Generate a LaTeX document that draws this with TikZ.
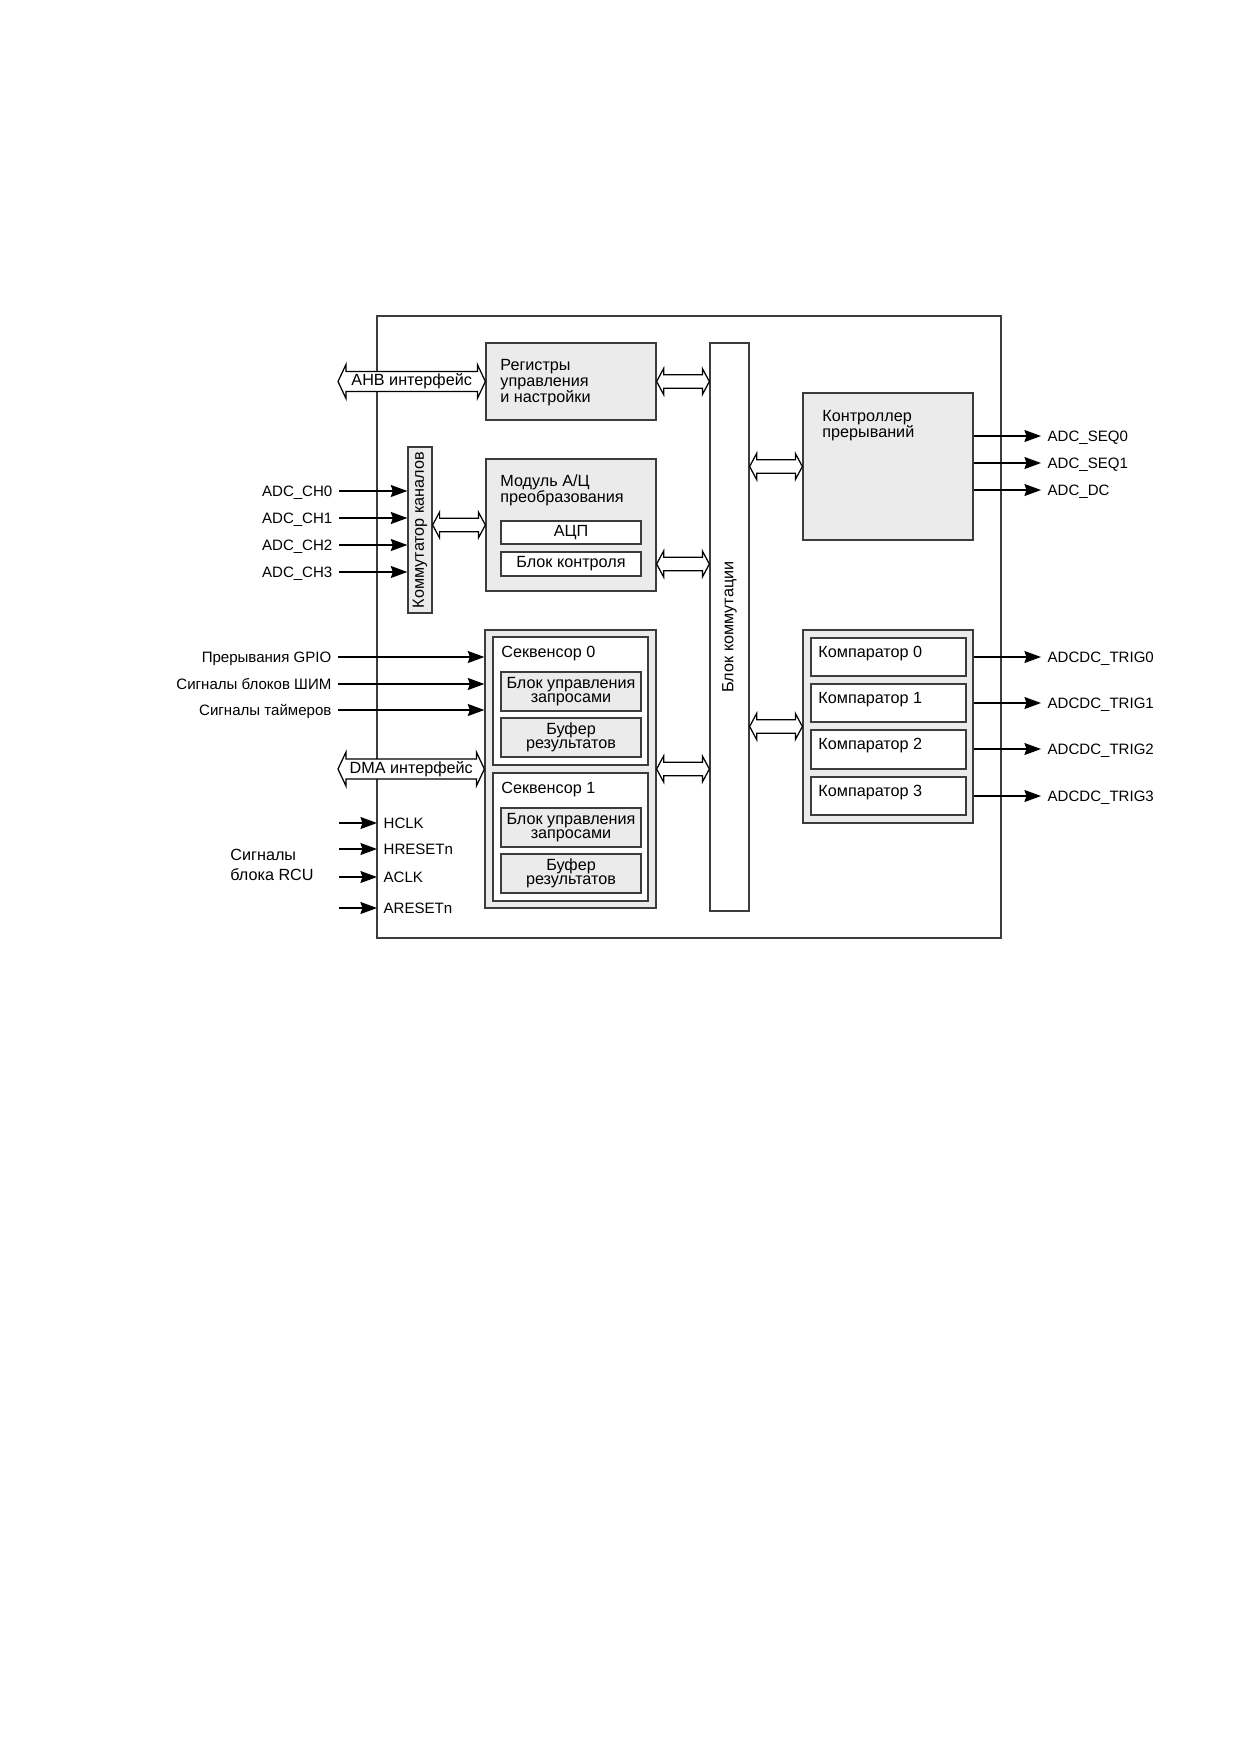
\documentclass[tikz,border=0pt]{standalone}
\usepackage{fontspec}
\setmainfont{Liberation Sans}
\usetikzlibrary{arrows.meta, calc, fit}

\definecolor{boxgray}{RGB}{235,235,235}
\definecolor{linegray}{RGB}{60,60,60}
\setlength{\lineskiplimit}{-10pt}

\tikzset{
  every node/.style={font=\fontsize{7.8}{7.6}\selectfont},
  blk/.style={draw=linegray, line width=0.6pt, inner sep=0pt},
  greyblk/.style={blk, fill=boxgray},
  whiteblk/.style={blk, fill=white},
  txt/.style={inner sep=0pt, align=left},
  innertxt/.style={inner sep=0pt, align=center, font=\fontsize{7.8}{6.6}\selectfont},
  sig/.style={inner xsep=3pt, inner ysep=0pt, text height=5.2pt, text depth=0pt, font=\fontsize{7.25}{8}\selectfont},
  sigarrow/.style={line width=0.6pt, -{Stealth[length=8pt, width=5.8pt, inset=1pt]}},
  busline/.style={draw=black, line width=0.6pt, fill=white, line join=miter},
}

% hollow two-way bus arrow: head length, half shaft, half head, from, to
\newcommand{\busarrow}[5]{%
  \draw[busline] (#4) -- ($(#4)+(#1,#3)$) -- ($(#4)+(#1,#2)$) -- ($(#5)+(-#1,#2)$)
    -- ($(#5)+(-#1,#3)$) -- (#5) -- ($(#5)+(-#1,-#3)$) -- ($(#5)+(-#1,-#2)$)
    -- ($(#4)+(#1,-#2)$) -- ($(#4)+(#1,-#3)$) -- cycle;}
\newcommand{\bigbus}[2]{\busarrow{8}{10}{17}{#1}{#2}}
\newcommand{\smallbus}[2]{\busarrow{7}{6.8}{13}{#1}{#2}}

\begin{document}
\begin{tikzpicture}[x=0.16933mm, y=-0.16933mm]
\useasboundingbox (0,0) rectangle (1240,1754);

% ADC frame
\node[whiteblk, fit={(377,316) (1001,938)}] (adc) {};

% Control registers
\node[greyblk, fit={(486,343) (656,420)}] (regs) {};
\node[txt, anchor=base west] (regstxt) at (500,402.5) {Регистры\\управления\\и настройки};

% Channel switch
\node[greyblk, fit={(408,447) (432,613)}] (mux) {};
\node[rotate=90, inner sep=0pt] (muxtxt) at (mux.center) {Коммутатор каналов};

% A/D conversion module
\node[greyblk, fit={(486,459) (656,591)}] (conv) {};
\node[txt, anchor=base west] (convtxt) at (500,502.5) {Модуль А/Ц\\преобразования};
\node[whiteblk, fit={(501,521) (641,544)}] (core) {};
\node (coretxt) at (core.center) {АЦП};
\node[whiteblk, fit={(501,552) (641,576)}] (check) {};
\node (checktxt) at (check.center) {Блок контроля};

% Switch block
\node[whiteblk, fit={(710,343) (749,911)}] (xbar) {};
\node[rotate=90, inner sep=0pt] (xbartxt) at (xbar.center) {Блок коммутации};

% Interrupt controller
\node[greyblk, fit={(803,393) (973,540)}] (irq) {};
\node[txt, anchor=base west] (irqtxt) at (822,437) {Контроллер\\прерываний};

% Sequencers
\node[greyblk, fit={(485,630) (656,908)}] (seqs) {};
\node[whiteblk, fit={(493,637) (648,765)}] (seq0) {};
\node[txt, anchor=base west] (seq0txt) at (501,657) {Секвенсор 0};
\node[greyblk, fit={(501,672) (641,711)}] (req0) {};
\node[innertxt] (req0txt) at (req0.center) {Блок управления\\запросами};
\node[greyblk, fit={(501,718) (641,757)}] (buf0) {};
\node[innertxt] (buf0txt) at (buf0.center) {Буфер\\результатов};
\node[whiteblk, fit={(493,773) (648,901)}] (seq1) {};
\node[txt, anchor=base west] (seq1txt) at (501,793) {Секвенсор 1};
\node[greyblk, fit={(501,808) (641,847)}] (req1) {};
\node[innertxt] (req1txt) at (req1.center) {Блок управления\\запросами};
\node[greyblk, fit={(501,854) (641,893)}] (buf1) {};
\node[innertxt] (buf1txt) at (buf1.center) {Буфер\\результатов};

% Comparators
\node[greyblk, fit={(803,630) (973,823)}] (cmps) {};
\node[whiteblk, fit={(811,638) (966,676)}] (cmp0) {};
\node[txt, anchor=base west] (cmp0txt) at (818,657) {Компаратор 0};
\node[whiteblk, fit={(811,684) (966,722)}] (cmp1) {};
\node[txt, anchor=base west] (cmp1txt) at (818,703) {Компаратор 1};
\node[whiteblk, fit={(811,730) (966,769)}] (cmp2) {};
\node[txt, anchor=base west] (cmp2txt) at (818,749) {Компаратор 2};
\node[whiteblk, fit={(811,777) (966,815)}] (cmp3) {};
\node[txt, anchor=base west] (cmp3txt) at (818,796) {Компаратор 3};

% Bus arrows
\coordinate (ahb) at (338,381.5);
\coordinate (dma) at (338,769);
\coordinate (muxout) at (mux.east |- conv.west);
\coordinate (xbarregs) at (xbar.west |- regs.east);
\coordinate (convout) at (conv.east |- check.east);
\coordinate (xbarconv) at (xbar.west |- check.east);
\coordinate (xbarseqs) at (xbar.west |- seqs.east);
\coordinate (xbarirq) at (xbar.east |- irq.west);
\coordinate (xbarcmps) at (xbar.east |- cmps.west);
\bigbus{ahb}{regs.west}
\node (ahbtxt) at ($(ahb)!0.5!(regs.west)$) {AHB интерфейс};
\bigbus{dma}{seqs.west}
\node (dmatxt) at ($(dma)!0.5!(seqs.west)$) {DMA интерфейс};
\smallbus{muxout}{conv.west}
\smallbus{regs.east}{xbarregs}
\smallbus{convout}{xbarconv}
\smallbus{seqs.east}{xbarseqs}
\smallbus{xbarirq}{irq.west}
\smallbus{xbarcmps}{cmps.west}

% Analog inputs
\node[sig, anchor=east] (ch0) at (339,491) {ADC\_CH0};
\node[sig, anchor=east] (ch1) at (339,518) {ADC\_CH1};
\node[sig, anchor=east] (ch2) at (339,545) {ADC\_CH2};
\node[sig, anchor=east] (ch3) at (339,572) {ADC\_CH3};
\draw[sigarrow] (ch0.east) -- (mux.west |- ch0.east);
\draw[sigarrow] (ch1.east) -- (mux.west |- ch1.east);
\draw[sigarrow] (ch2.east) -- (mux.west |- ch2.east);
\draw[sigarrow] (ch3.east) -- (mux.west |- ch3.east);

% Start events
\node[sig, anchor=east] (gpio) at (338,657) {Прерывания GPIO};
\node[sig, anchor=east] (pwm) at (338,684) {Сигналы блоков ШИМ};
\node[sig, anchor=east] (tmr) at (338,710) {Сигналы таймеров};
\draw[sigarrow] (gpio.east) -- (seqs.west |- gpio.east);
\draw[sigarrow] (pwm.east) -- (seqs.west |- pwm.east);
\draw[sigarrow] (tmr.east) -- (seqs.west |- tmr.east);

% RCU signals
\node[txt, anchor=base west, font=\fontsize{7.8}{9.3}\selectfont] (rcu) at (230,880) {Сигналы\\блока RCU};
\node[sig, anchor=west] (hclk) at (377,823) {HCLK};
\node[sig, anchor=west] (hrst) at (377,849) {HRESETn};
\node[sig, anchor=west] (aclk) at (377,877) {ACLK};
\node[sig, anchor=west] (arst) at (377,908) {ARESETn};
\coordinate (hclkin) at (339,823);
\coordinate (hrstin) at (339,849);
\coordinate (aclkin) at (339,877);
\coordinate (arstin) at (339,908);
\draw[sigarrow] (hclkin) -- (hclk.west);
\draw[sigarrow] (hrstin) -- (hrst.west);
\draw[sigarrow] (aclkin) -- (aclk.west);
\draw[sigarrow] (arstin) -- (arst.west);

% Interrupt outputs
\node[sig, anchor=west] (sq0) at (1041,436) {ADC\_SEQ0};
\node[sig, anchor=west] (sq1) at (1041,463) {ADC\_SEQ1};
\node[sig, anchor=west] (dc) at (1041,490) {ADC\_DC};
\draw[sigarrow] (irq.east |- sq0.west) -- (sq0.west);
\draw[sigarrow] (irq.east |- sq1.west) -- (sq1.west);
\draw[sigarrow] (irq.east |- dc.west) -- (dc.west);

% Comparator outputs
\node[sig, anchor=west] (trig0) at (1041,657) {ADCDC\_TRIG0};
\node[sig, anchor=west] (trig1) at (1041,703) {ADCDC\_TRIG1};
\node[sig, anchor=west] (trig2) at (1041,749) {ADCDC\_TRIG2};
\node[sig, anchor=west] (trig3) at (1041,796) {ADCDC\_TRIG3};
\draw[sigarrow] (cmps.east |- trig0.west) -- (trig0.west);
\draw[sigarrow] (cmps.east |- trig1.west) -- (trig1.west);
\draw[sigarrow] (cmps.east |- trig2.west) -- (trig2.west);
\draw[sigarrow] (cmps.east |- trig3.west) -- (trig3.west);
\end{tikzpicture}
\end{document}
